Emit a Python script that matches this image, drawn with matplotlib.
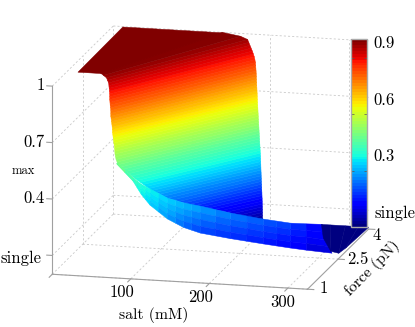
#!/usr/bin/env python3
# Force/salt surface with jet colouring
import numpy as np
import matplotlib
matplotlib.use('Agg')
import matplotlib.pyplot as plt
from matplotlib.cm import ScalarMappable
from matplotlib.colors import Normalize
from mpl_toolkits.mplot3d import proj3d

plt.rcParams['font.family'] = ['cmr10', 'DejaVu Serif']
plt.rcParams['axes.unicode_minus'] = False
plt.rcParams['axes.formatter.use_mathtext'] = True

x_ticks = [100, 200, 300]
y_ticks = [1, 2.5, 4]
y_tick_labels = ['1', '2.5', '4']
z_ticks = [0.1, 0.4, 0.7, 1.0]
z_tick_labels = ['single', '0.4', '0.7', '1']
cbar_ticks = [0, 0.3, 0.6, 0.9]
cbar_tick_labels = ['single', '0.3', '0.6', '0.9']

# flat top of the surface
top_x = [[12.7, 42], [11.5, 139]]
top_y = [[1.75, 1.75], [4, 4]]
top_z = [[1.0, 1.0], [1.0, 1.0]]

# steep part: level, then salt and force at the low force end, salt at force 4
wall_z = [1.0, 0.985, 0.97, 0.955, 0.94, 0.925, 0.91, 0.895, 0.88, 0.865, 0.85, 0.835,
          0.82, 0.805, 0.79, 0.775, 0.76, 0.745, 0.73, 0.715, 0.70, 0.685, 0.67, 0.655,
          0.64, 0.625, 0.61, 0.595, 0.58, 0.565, 0.55, 0.535, 0.52, 0.505, 0.49, 0.475,
          0.46, 0.445, 0.43, 0.415, 0.40, 0.385, 0.37, 0.355, 0.34, 0.325, 0.31, 0.295,
          0.28, 0.265, 0.25, 0.235, 0.22, 0.205, 0.19, 0.175, 0.16, 0.145, 0.13, 0.115,
          0.10, 0.085, 0.07, 0.055, 0.04, 0.025, 0.01]
wall_x_low = [42, 45, 48, 49, 50, 50.3, 50.5, 50.8, 51, 51, 51, 51.3,
              51.5, 51.8, 52, 52, 52, 52.3, 52.5, 52.8, 53, 53, 53, 53.3,
              53.5, 53.8, 54, 54.3, 54.5, 54.8, 55, 55.5, 56, 57, 58, 60.5,
              63, 65.5, 68, 71, 74, 76.5, 79, 81.5, 84, 86.5, 89, 92.5,
              96, 99.5, 103, 108.5, 114, 118.5, 123, 128, 133, 139, 145, 151,
              157, 162.5, 168, 174, 180, 184, 188]
wall_y_low = [1.75, 1.78, 1.81, 1.825, 1.84, 1.845, 1.85, 1.852, 1.855, 1.855, 1.855, 1.858,
              1.86, 1.865, 1.87, 1.87, 1.87, 1.878, 1.885, 1.892, 1.9, 1.908, 1.915, 1.922,
              1.93, 1.938, 1.945, 1.952, 1.96, 1.96, 1.96, 1.968, 1.975, 1.988, 2.0, 2.035,
              2.07, 2.105, 2.14, 2.17, 2.2, 2.245, 2.29, 2.335, 2.38, 2.425, 2.47, 2.53,
              2.59, 2.635, 2.68, 2.755, 2.83, 2.905, 2.98, 3.07, 3.16, 3.25, 3.34, 3.43,
              3.52, 3.595, 3.67, 3.76, 3.85, 3.915, 3.98]
wall_x_high = [139, 162, 171, 172.5, 174, 175.5, 177, 178.3, 179.5, 180.3, 181, 181.3,
               181.5, 181.8, 182, 182.2, 182.3, 182.5, 182.6, 182.8, 183, 183.2, 183.3, 183.5,
               183.6, 183.8, 184, 184.2, 184.4, 184.6, 184.8, 185, 185.2, 185.4, 185.6, 185.8,
               186, 186.2, 186.4, 186.6, 186.8, 187, 187.2, 187.4, 187.5, 187.7, 187.8, 187.9,
               188, 188.2, 188.3, 188.5, 188.6, 188.8, 188.9, 189, 189.2, 189.3, 189.5, 189.6,
               189.7, 189.8, 189.9, 190, 190, 190.1, 190.2]

# band along the low force edge, from the ridge to the lower edge
band_x = [[57, 68, 79, 84, 89, 94, 99, 111.5, 124, 133, 141.5, 151, 161, 179, 197, 217, 237, 252, 267.5, 279, 291],
          [57, 67.5, 78, 84, 89.8, 95.5, 101.5, 113.8, 126.3, 135, 143.8, 153.5, 163.3, 181.5, 199.8, 220, 240, 255.5, 271, 284.3, 300.5],
          [57, 67, 77, 84, 90.5, 97, 104, 116, 128.5, 137, 146, 156, 165.5, 184, 202.5, 223, 243, 259, 274.5, 289.5, 310],
          [57, 66.5, 76, 83.8, 91.3, 98.8, 106.5, 118.5, 130.8, 139.5, 148.5, 158.3, 167.8, 186.5, 205.3, 225.8, 246, 262, 278, 294.8, 316],
          [57, 66, 75, 83.5, 92, 100.5, 109, 121, 133, 142, 151, 160.5, 170, 189, 208, 228.5, 249, 265, 281.5, 300, 322]]
band_y = [[1.98, 1.96, 1.945, 1.94, 1.94, 1.97, 2.0, 1.945, 1.89, 1.935, 1.98, 2.015, 2.05, 2.105, 2.16, 2.195, 2.23, 2.305, 2.38, 2.7, 3.03],
          [1.98, 1.978, 1.978, 1.943, 1.91, 1.905, 1.9, 1.85, 1.8, 1.845, 1.89, 1.928, 1.965, 2.008, 2.048, 2.083, 2.115, 2.178, 2.243, 2.5, 2.795],
          [1.98, 1.995, 2.01, 1.945, 1.88, 1.84, 1.8, 1.755, 1.71, 1.755, 1.8, 1.84, 1.88, 1.91, 1.935, 1.97, 2.0, 2.05, 2.105, 2.3, 2.56],
          [1.98, 2.01, 2.04, 1.945, 1.85, 1.775, 1.7, 1.66, 1.62, 1.665, 1.71, 1.753, 1.795, 1.81, 1.823, 1.855, 1.885, 1.925, 1.968, 2.103, 2.44],
          [1.98, 2.025, 2.07, 1.945, 1.82, 1.71, 1.6, 1.565, 1.53, 1.575, 1.62, 1.665, 1.71, 1.71, 1.71, 1.74, 1.77, 1.8, 1.83, 1.905, 2.32]]
band_z = [[0.5, 0.465, 0.43, 0.415, 0.40, 0.385, 0.37, 0.355, 0.34, 0.325, 0.31, 0.30, 0.29, 0.27, 0.25, 0.235, 0.22, 0.205, 0.19, 0.155, 0.12],
          [0.499, 0.46, 0.4225, 0.406, 0.39, 0.375, 0.36, 0.341, 0.3225, 0.305, 0.2875, 0.2755, 0.264, 0.246, 0.229, 0.2145, 0.2, 0.186, 0.1725, 0.1425, 0.105],
          [0.4975, 0.456, 0.415, 0.3975, 0.38, 0.365, 0.35, 0.3275, 0.305, 0.285, 0.265, 0.251, 0.2375, 0.2225, 0.2075, 0.194, 0.18, 0.1675, 0.155, 0.13, 0.09],
          [0.496, 0.452, 0.4075, 0.389, 0.37, 0.355, 0.34, 0.314, 0.2875, 0.265, 0.2425, 0.227, 0.211, 0.199, 0.186, 0.173, 0.16, 0.149, 0.1375, 0.1175, 0.07],
          [0.495, 0.4475, 0.40, 0.38, 0.36, 0.345, 0.33, 0.30, 0.27, 0.245, 0.22, 0.2025, 0.185, 0.175, 0.165, 0.1525, 0.14, 0.13, 0.12, 0.105, 0.05]]

# dark corner at high salt
corner_x = [[265, 276, 295.5, 312, 325], [284, 309, 321, 323, 325]]
corner_y = [[4, 4, 4, 4, 4], [3.36, 2.76, 2.69, 2.95, 3.87]]
corner_z = [[0.01] * 5, [0.01] * 5]

x_lim = (0, 325)
y_lim = (1, 4)
z_lim = (0, 1)
jet = plt.get_cmap('jet', 64)
grid_style = dict(color='#c9c9c9', lw=0.6, dashes=(2.5, 2.5), zorder=1)
axis_style = dict(color='#a0a0a0', lw=0.8, zorder=5)

fig = plt.figure(figsize=(4.15, 3.27), dpi=100)
ax = fig.add_axes([5 / 415, -36 / 327, 400 / 415, 400 / 327], projection='3d',
                  computed_zorder=False)
ax.patch.set_alpha(0)
ax.set_proj_type('ortho')
ax.view_init(elev=13.9, azim=-76.3)
ax.set_box_aspect((262.6, 257.6, 193.7), zoom=1.0095)
ax.set_xlim(*x_lim)
ax.set_ylim(*y_lim)
ax.set_zlim(*z_lim)
ax.set_axis_off()

# grid on the floor and the two back walls
for xt in x_ticks:
    ax.plot([xt, xt], y_lim, [0, 0], **grid_style)
    ax.plot([xt, xt], [4, 4], z_lim, **grid_style)
for yt in y_ticks:
    ax.plot(x_lim, [yt, yt], [0, 0], **grid_style)
    ax.plot([0, 0], [yt, yt], z_lim, **grid_style)
for zt in z_ticks:
    ax.plot([0, 0], y_lim, [zt, zt], **grid_style)
    ax.plot(x_lim, [4, 4], [zt, zt], **grid_style)
ax.plot([0, 0], y_lim, [0, 0], **grid_style)


def sheet(xs, ys, zs, order, cmap=jet):
    surf = ax.plot_surface(np.array(xs, float), np.array(ys, float), np.array(zs, float),
                           rstride=1, cstride=1, cmap=cmap, vmin=0, vmax=1, shade=False,
                           linewidth=0.35, antialiased=True, zorder=order)
    surf.set_edgecolor('face')


def label3d(x, y, z, s, **kw):
    # project the anchor so the label is an ordinary figure text
    px, py, _ = proj3d.proj_transform(x, y, z, ax.get_proj())
    fx, fy = ax.transData.transform((px, py))
    fig.text(fx / fig.bbox.width, fy / fig.bbox.height, s, fontsize=12, va='center', **kw)


wall_xs = np.column_stack([wall_x_low, wall_x_high])
wall_ys = np.column_stack([wall_y_low, np.full(len(wall_z), 4.0)])
wall_zs = np.column_stack([wall_z, wall_z])
sheet(wall_xs, wall_ys, wall_zs, 2, 'jet')
sheet(top_x, top_y, top_z, 2.5)
sheet(band_x, band_y, band_z, 3, 'jet')
sheet(corner_x, corner_y, corner_z, 4)

# axis lines, ticks and tick labels
ax.plot(x_lim, [1, 1], [0, 0], **axis_style)
ax.plot([325, 325], y_lim, [0, 0], **axis_style)
ax.plot([0, 0], [1, 1], z_lim, **axis_style)
for xt in [0] + x_ticks:
    ax.plot([xt, xt], [1, 0.85], [0, 0], **axis_style)
for yt in y_ticks:
    ax.plot([325, 333], [yt, yt], [0, 0], **axis_style)
for zt in z_ticks:
    ax.plot([0, -7], [1, 1], [zt, zt], **axis_style)

x_label_dx = [-11, -11, -6]
for xt, dx in zip(x_ticks, x_label_dx):
    label3d(xt + dx, 1, -0.077, str(xt), ha='center')
y_label_dx = [20, 25, 10]
y_label_dz = [0.01, 0.005, -0.03]
for yt, lbl, dx, dz in zip(y_ticks, y_tick_labels, y_label_dx, y_label_dz):
    label3d(325 + dx, yt, dz, lbl, ha='center')
for zt, lbl in zip(z_ticks, z_tick_labels):
    label3d(-14 if lbl == 'single' else -10, 1, zt - 0.02 if lbl == 'single' else zt,
            lbl, ha='right')

fig.text(154 / 415, 1 - 315 / 327, 'salt (mM)', ha='center', va='center', fontsize=11.3)
fig.text(372 / 415, 1 - 268 / 327, 'force (pN)', ha='center', va='center', fontsize=11.3,
         rotation=45, rotation_mode='anchor')
fig.text(23 / 415, 1 - 171 / 327, 'max', ha='center', va='center', fontsize=9)

# colour bar with its labels lifted above the ticks
cax = fig.add_axes([350.5 / 415, 1 - 227 / 327, 16.5 / 415, 188 / 327])
cbar = fig.colorbar(ScalarMappable(Normalize(0, 1), jet), cax=cax)
cbar.outline.set_edgecolor('#aaaaaa')
cbar.outline.set_linewidth(1.0)
cax.set_yticks(cbar_ticks)
cax.tick_params(direction='in', length=2, width=0.5, color='#555555', left=True, right=True,
                labelright=False, labelleft=False)
for v, lbl in zip(cbar_ticks, cbar_tick_labels):
    cax.text(1.45 if lbl == 'single' else 1.4, v + 0.075, lbl, transform=cax.get_yaxis_transform(),
             ha='left', va='center', fontsize=12)

fig.savefig('out.png', dpi=100)
